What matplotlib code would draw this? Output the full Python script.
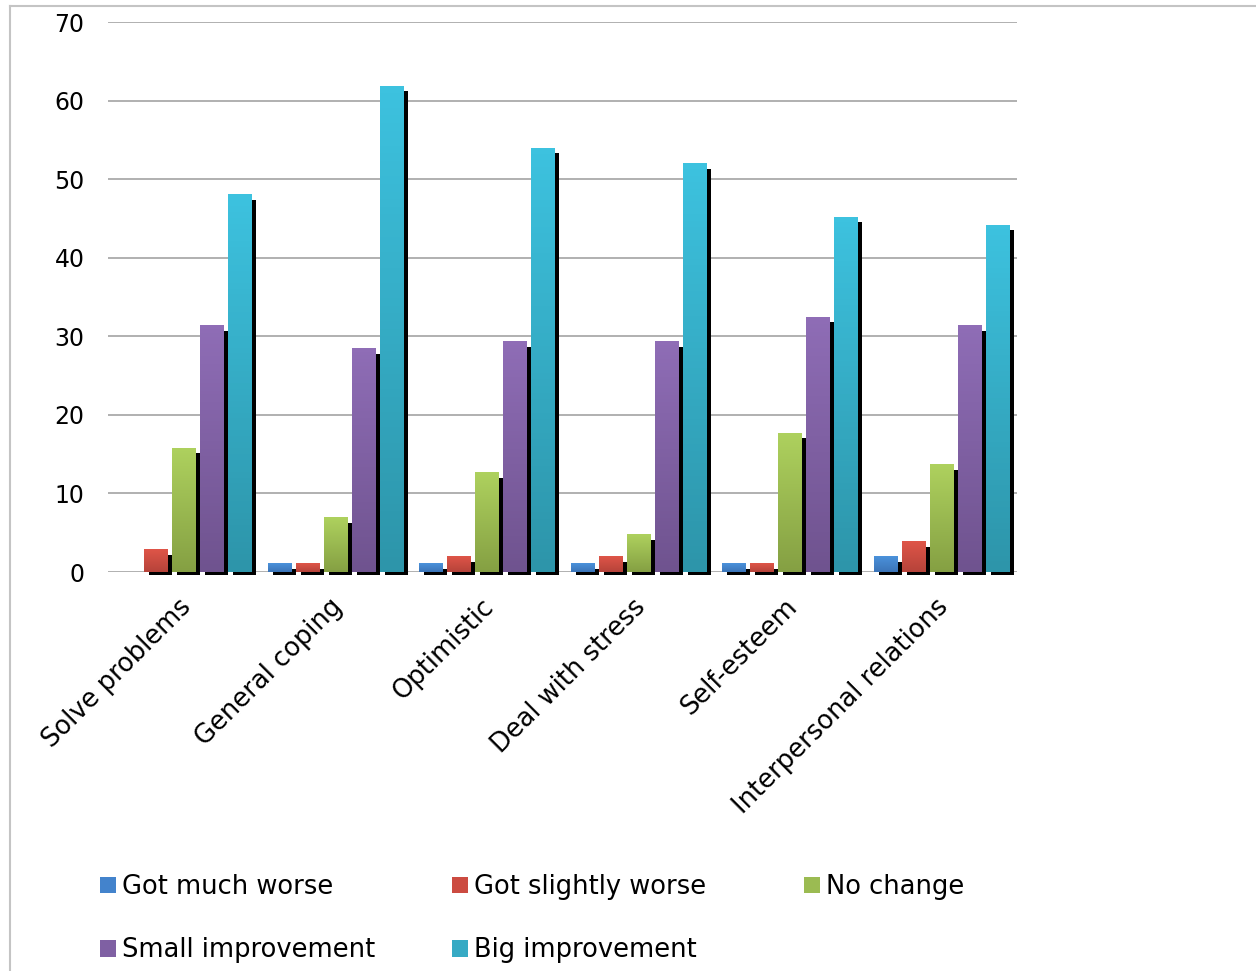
import matplotlib
matplotlib.use('Agg')
import matplotlib.pyplot as plt
from matplotlib.colors import LinearSegmentedColormap
from matplotlib.lines import Line2D
from matplotlib.patches import Patch
import matplotlib.transforms as mtransforms
import numpy as np

categories = ['Solve problems', 'General coping', 'Optimistic', 'Deal with stress',
              'Self-esteem', 'Interpersonal relations']
series_names = ['Got much worse', 'Got slightly worse', 'No change',
                'Small improvement', 'Big improvement']

much_worse = [0, 1.1, 1.1, 1.1, 1.1, 2.0]
slightly_worse = [2.9, 1.1, 2.0, 2.0, 1.1, 3.9]
no_change = [15.8, 7.0, 12.7, 4.8, 17.7, 13.7]
small_improvement = [31.4, 28.5, 29.4, 29.4, 32.5, 31.4]
big_improvement = [48.1, 61.9, 54.0, 52.0, 45.2, 44.2]

# (top colour, bottom colour, legend colour) for each series
grads = [('#4b92db', '#3b74b8', '#4383cc'),
         ('#df5548', '#b6433a', '#cc4b41'),
         ('#aed15e', '#85a043', '#9bbb52'),
         ('#8f6db6', '#6f538f', '#7f60a3'),
         ('#3dc2df', '#2d95aa', '#36aac4')]

plt.rcParams['font.family'] = 'DejaVu Sans'

fig = plt.figure(figsize=(12.56, 9.71), dpi=100)
ax = fig.add_axes([108 / 1256, 1 - 572 / 971, (1017 - 108) / 1256, 550 / 971])

x = np.arange(len(categories))
pitch = 0.185
width = 0.152
shift = 0.034
data = [much_worse, slightly_worse, no_change, small_improvement, big_improvement]

for i, vals in enumerate(data):
    pos = x + (i - 2) * pitch
    vals = np.array(vals)
    keep = vals > 0
    # black drop shadow, slightly lower and to the right
    ax.bar(pos[keep] + shift, np.maximum(vals[keep] - 0.7, -0.05) + 0.35, width=width,
           bottom=-0.35, color='black', zorder=2, clip_on=False)
    bars = ax.bar(pos, vals, width=width, color=grads[i][0], zorder=3)
    cmap = LinearSegmentedColormap.from_list('g%d' % i, [grads[i][1], grads[i][0]])
    for b in bars:
        if b.get_height() <= 0:
            continue
        x0, y0 = b.get_x(), b.get_y()
        im = ax.imshow(np.linspace(0, 1, 64).reshape(-1, 1), cmap=cmap, origin='lower',
                       extent=[x0, x0 + b.get_width(), y0, y0 + b.get_height()],
                       aspect='auto', zorder=4)
        im.set_clip_path(b)

ax.set_xlim(-0.5, len(categories) - 0.5)
ax.set_ylim(0, 70)
ax.set_yticks(range(0, 71, 10))
ax.yaxis.grid(True, color='#b0b0b0', linewidth=1.4)
ax.set_axisbelow(True)
for s in ax.spines.values():
    s.set_visible(False)
ax.tick_params(axis='both', length=0)
ax.tick_params(axis='y', pad=17, labelsize=17)
ax.set_xticks(x)
ax.set_xticklabels(categories, rotation=45, ha='right', rotation_mode='anchor', fontsize=18.5)
ax.tick_params(axis='x', pad=16)
off = mtransforms.ScaledTranslation(-6 / 100, 0, fig.dpi_scale_trans)
for lbl in ax.get_xticklabels():
    lbl.set_transform(lbl.get_transform() + off)

# legend, three columns placed by hand
cols = [[0, 3], [1, 4], [2]]
col_x = [100 / 1256, 452 / 1256, 804 / 1256]
for c, idxs in enumerate(cols):
    handles = [Patch(facecolor=grads[k][2], edgecolor='none') for k in idxs]
    fig.legend(handles, [series_names[k] for k in idxs], loc='upper left',
               bbox_to_anchor=(col_x[c], 1 - 874 / 971), frameon=False, fontsize=18.5,
               handlelength=0.62, handleheight=0.62, handletextpad=0.22,
               labelspacing=1.45, borderpad=0, borderaxespad=0)

# outer chart frame
fig.add_artist(Line2D([10 / 1256, 1], [1 - 6 / 971, 1 - 6 / 971], color='#c4c4c4', lw=1.5))
fig.add_artist(Line2D([10 / 1256, 10 / 1256], [0, 1 - 6 / 971], color='#c4c4c4', lw=1.5))

plt.savefig('out.png', dpi=100)
